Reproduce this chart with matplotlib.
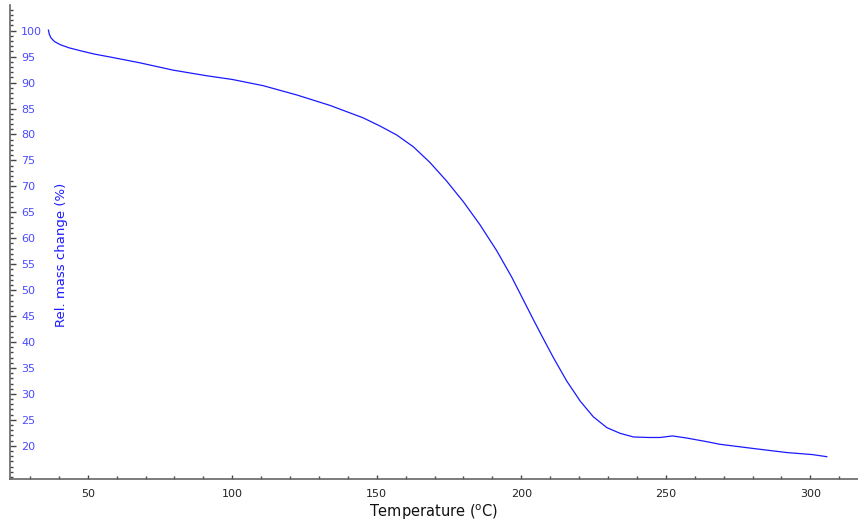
import matplotlib
matplotlib.use("Agg")
import matplotlib.pyplot as plt
from matplotlib.ticker import MultipleLocator

# Data (temperature in °C, relative mass in %)
temperature = [36.4, 36.7, 37.3, 38.5, 40.5, 43.5, 47.0, 52.2, 58.0, 62.6,
               68.1, 79.5, 91.3, 100.0, 110.7, 122.4, 133.8, 145.3, 151.2,
               156.9, 162.7, 168.4, 174.2, 180.0, 185.7, 191.5, 196.7, 201.0,
               204.1, 206.9, 211.1, 215.7, 220.4, 224.9, 229.6, 234.2, 238.8,
               244.0, 248.0, 252.3, 257.2, 264.1, 268.6, 280.0, 291.8, 300.8,
               305.7]
rel_mass = [100.1, 99.3, 98.6, 97.9, 97.3, 96.7, 96.2, 95.5, 94.9, 94.4,
            93.8, 92.4, 91.3, 90.6, 89.4, 87.6, 85.6, 83.2, 81.6,
            79.9, 77.6, 74.6, 71.0, 67.0, 62.6, 57.6, 52.5, 47.8,
            44.4, 41.4, 37.0, 32.5, 28.6, 25.6, 23.5, 22.4, 21.7,
            21.6, 21.6, 21.9, 21.5, 20.8, 20.3, 19.5, 18.7, 18.3,
            17.9]

y_major = [20, 25, 30, 35, 40, 45, 50, 55, 60, 65, 70, 75, 80, 85, 90, 95, 100]
x_major = [50, 100, 150, 200, 250, 300]

fig = plt.figure(figsize=(8.58, 5.24), dpi=100)
ax = fig.add_axes([10 / 858, 45 / 524, 848 / 858, 474 / 524])

ax.plot(temperature, rel_mass, color="#1a1aff", linewidth=0.9)

ax.set_xlim(23.1, 316.5)
ax.set_ylim(13.6, 104.95)

for s in ("top", "right"):
    ax.spines[s].set_visible(False)
for s in ("left", "bottom"):
    ax.spines[s].set_color("#666666")
    ax.spines[s].set_linewidth(1.2)

ax.set_xticks(x_major)
ax.set_yticks(y_major)
ax.xaxis.set_minor_locator(MultipleLocator(10))
ax.yaxis.set_minor_locator(MultipleLocator(1))

ax.tick_params(axis="x", which="major", direction="in", length=3, width=1,
               color="#444444", labelsize=8, labelcolor="#222222", pad=7)
ax.tick_params(axis="x", which="minor", direction="in", length=2, width=1,
               color="#444444")
ax.tick_params(axis="y", which="major", direction="in", length=4, width=1,
               color="#444444", labelsize=8, labelcolor="#4a4aff", pad=-8)
ax.tick_params(axis="y", which="minor", direction="in", length=2, width=1,
               color="#444444")
for lbl in ax.get_yticklabels():
    lbl.set_horizontalalignment("left")

ax.set_xlabel(r"Temperature ($^{\mathrm{o}}$C)", fontsize=10.5, color="#111111",
              labelpad=3)
fig.text(62 / 858, 1 - 255 / 524, "Rel. mass change (%)", rotation=90,
         ha="center", va="center", fontsize=9.5, color="#1a1aff")

fig.savefig("out.png", dpi=100)
